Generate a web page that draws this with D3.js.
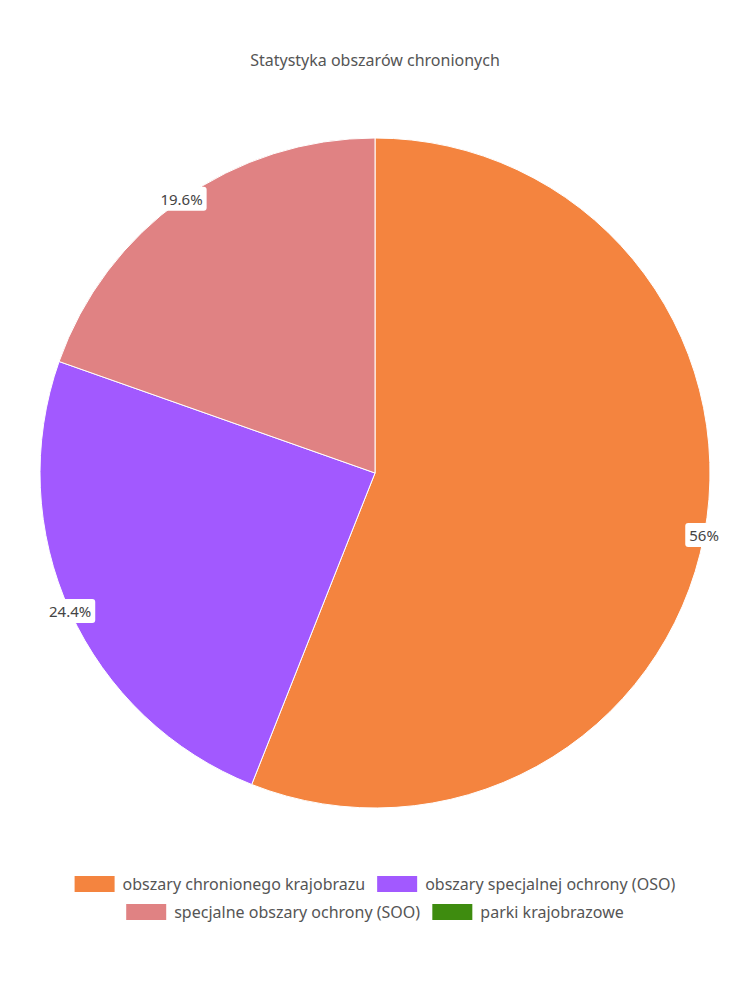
<!DOCTYPE html>
<html><head><meta charset="utf-8">
<script src="https://cdn.jsdelivr.net/npm/d3@7"></script>
<style>body{margin:0;background:#fff;font-family:"Noto Sans",sans-serif;}</style>
</head><body><div id="chart"></div>
<script>
const categories = ["obszary chronionego krajobrazu", "obszary specjalnej ochrony (OSO)", "specjalne obszary ochrony (SOO)", "parki krajobrazowe"];
const values = [56, 24.4, 19.6, 0];
const colors = ["#f4843f", "#a259ff", "#e08283", "#3e8c0f"];

const width = 750, height = 1000, cx = 375, cy = 473, r = 335;
const svg = d3.select("#chart").append("svg").attr("width", width).attr("height", height);

svg.append("text").attr("x", width / 2).attr("y", 66).attr("text-anchor", "middle")
  .style("font-size", "16px").style("fill", "#555").text("Statystyka obszarów chronionych");

const data = categories.map((c, i) => ({ c, v: values[i], col: colors[i] }));
const arcs = d3.pie().sort(null).value(d => d.v)(data);
const arc = d3.arc().innerRadius(0).outerRadius(r);
const g = svg.append("g").attr("transform", `translate(${cx},${cy})`);
g.selectAll("path").data(arcs.filter(a => a.data.v > 0)).join("path")
  .attr("d", arc).attr("fill", d => d.data.col).attr("stroke", "#fff").attr("stroke-width", 1);

const lab = d3.arc().innerRadius(r).outerRadius(r);
arcs.filter(a => a.data.v > 0).forEach(a => {
  const [x, y] = lab.centroid(a);
  const lg = g.append("g").attr("transform", `translate(${x},${y})`);
  const t = lg.append("text").attr("text-anchor", "middle").attr("dy", "0.35em")
    .style("font-size", "15px").style("fill", "#444").text(a.data.v + "%");
  const b = t.node().getBBox();
  lg.insert("rect", "text").attr("x", b.x - 4).attr("y", b.y - 2).attr("width", b.width + 8)
    .attr("height", b.height + 4).attr("rx", 3).attr("fill", "#fff");
});

// legend, flow layout
const lgG = svg.append("g");
const items = data.map(d => {
  const gi = lgG.append("g");
  gi.append("rect").attr("width", 40).attr("height", 16).attr("fill", d.col);
  gi.append("text").attr("x", 48).attr("y", 8).attr("dy", "0.35em")
    .style("font-size", "16px").style("fill", "#555").text(d.c);
  return { gi, w: gi.node().getBBox().width };
});
const maxW = 620, gap = 12;
let rows = [[]], rw = 0;
items.forEach(it => {
  if (rows[rows.length - 1].length && rw + gap + it.w > maxW) { rows.push([]); rw = 0; }
  rw += (rows[rows.length - 1].length ? gap : 0) + it.w;
  rows[rows.length - 1].push(it);
});
rows.forEach((row, ri) => {
  const tw = d3.sum(row, d => d.w) + gap * (row.length - 1);
  let x = (width - tw) / 2;
  row.forEach(it => { it.gi.attr("transform", `translate(${x},${876 + ri * 28})`); x += it.w + gap; });
});
</script></body></html>
